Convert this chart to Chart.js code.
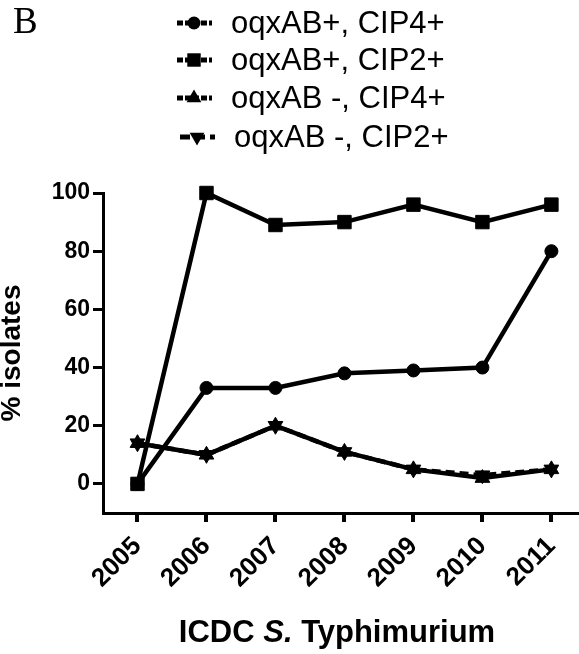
<!DOCTYPE html>
<html>
<head>
<meta charset="utf-8">
<script src="https://cdn.jsdelivr.net/npm/chart.js@4.4.0/dist/chart.umd.min.js"></script>
<style>
  html, body { margin: 0; padding: 0; background: #fff; }
</style>
</head>
<body>
<canvas id="chart" width="579" height="654"></canvas>
<script>
// data
const years = [2005, 2006, 2007, 2008, 2009, 2010, 2011];
const seriesLabels = ['oqxAB+, CIP4+', 'oqxAB+, CIP2+', 'oqxAB -, CIP4+', 'oqxAB -, CIP2+'];
const posCip4 = [0, 33, 33, 38, 39, 40, 80];
const posCip2 = [0, 100, 89, 90, 96, 90, 96];
const negCip4 = [14, 10, 20, 11, 5, 2, 5];
const negCip2 = [14, 10, 20, 11, 5, 3, 5];
const yTicks = [0, 20, 40, 60, 80, 100];

const FONT = '"Liberation Sans", Arial, Helvetica, sans-serif';

function toPoints(values) {
    return values.map((v, i) => ({ x: years[i], y: v }));
}

function makeDataset(label, values, style, radius, rotation, dash) {
    return {
        label: label,
        data: toPoints(values),
        borderColor: '#000',
        backgroundColor: '#000',
        borderWidth: 4.5,
        borderDash: dash,
        pointStyle: style,
        pointRadius: radius,
        pointRotation: rotation,
        pointBackgroundColor: '#000',
        pointBorderColor: '#000',
        pointBorderWidth: 1,
        tension: 0,
        clip: false
    };
}

const datasets = [
    makeDataset(seriesLabels[0], posCip4, 'circle', 6.5, 0, []),
    makeDataset(seriesLabels[1], posCip2, 'rect', 9.5, 0, []),
    makeDataset(seriesLabels[2], negCip4, 'triangle', 8.5, 0, []),
    makeDataset(seriesLabels[3], negCip2, 'triangle', 8.5, 180, [9, 5])
];

// legend rows, panel letter and x title (mixed italic) drawn on the canvas
const legendRows = [23, 60, 98, 137];
const extraText = {
    id: 'extraText',
    afterDraw(chart) {
        const ctx = chart.ctx;
        ctx.save();
        ctx.fillStyle = '#000';
        ctx.strokeStyle = '#000';
        ctx.textBaseline = 'alphabetic';

        ctx.font = '37px "Liberation Serif", "Times New Roman", serif';
        ctx.fillText('B', 13, 33);

        chart.data.datasets.forEach((ds, i) => {
            const cy = legendRows[i];
            const shift = i === 3 ? 3 : 0;
            ctx.save();
            ctx.lineWidth = 5;
            ctx.setLineDash(i === 3 ? [10, 5] : [6, 2]);
            ctx.beginPath();
            ctx.moveTo(177 + shift, cy);
            ctx.lineTo(212 + shift, cy);
            ctx.stroke();
            ctx.setLineDash([]);
            Chart.helpers.drawPoint(ctx, {
                pointStyle: ds.pointStyle,
                radius: ds.pointRadius,
                rotation: ds.pointRotation,
                borderWidth: 0
            }, 194 + shift, cy);
            ctx.restore();
            ctx.font = '31px ' + FONT;
            ctx.fillText(ds.label, 231 + shift, cy + 10);
        });

        const parts = [
            { t: 'ICDC ', f: 'bold 31px ' + FONT },
            { t: 'S.', f: 'italic bold 31px ' + FONT },
            { t: ' Typhimurium', f: 'bold 31px ' + FONT }
        ];
        let total = 0;
        parts.forEach(p => { ctx.font = p.f; p.w = ctx.measureText(p.t).width; total += p.w; });
        let x = 337 - total / 2;
        parts.forEach(p => { ctx.font = p.f; ctx.fillText(p.t, x, 642); x += p.w; });
        ctx.restore();
    }
};

new Chart(document.getElementById('chart'), {
    type: 'line',
    data: { datasets: datasets },
    options: {
        responsive: false,
        animation: false,
        devicePixelRatio: 1,
        layout: { autoPadding: false, padding: { top: 193, right: 0, left: 0, bottom: 0 } },
        plugins: {
            legend: { display: false },
            tooltip: { enabled: false }
        },
        scales: {
            x: {
                type: 'linear',
                min: 2004.5,
                max: 2011.4,
                afterBuildTicks: s => { s.ticks = years.map(v => ({ value: v })); },
                afterFit: s => { s.height = 141; s.paddingRight = 0; s.paddingLeft = 0; },
                ticks: {
                    callback: v => String(v),
                    minRotation: 45,
                    maxRotation: 45,
                    autoSkip: false,
                    font: { family: FONT, weight: 'bold', size: 26 },
                    color: '#000',
                    padding: 9
                },
                grid: { drawOnChartArea: false, drawTicks: true, tickLength: 9, lineWidth: 4, color: '#000' },
                border: { display: true, width: 3, color: '#000' }
            },
            y: {
                min: -10,
                max: 100,
                afterBuildTicks: s => { s.ticks = yTicks.map(v => ({ value: v })); },
                afterFit: s => { s.width = 103; },
                ticks: { font: { family: FONT, weight: 'bold', size: 23 }, color: '#000', padding: 3 },
                grid: { drawOnChartArea: false, drawTicks: true, tickLength: 10, lineWidth: 3, color: '#000' },
                border: { display: true, width: 3, color: '#000' },
                title: {
                    display: true,
                    text: '% isolates',
                    color: '#000',
                    font: { family: FONT, weight: 'bold', size: 28, lineHeight: 0.85 },
                    padding: 0
                }
            }
        }
    },
    plugins: [extraText]
});
</script>
</body>
</html>
